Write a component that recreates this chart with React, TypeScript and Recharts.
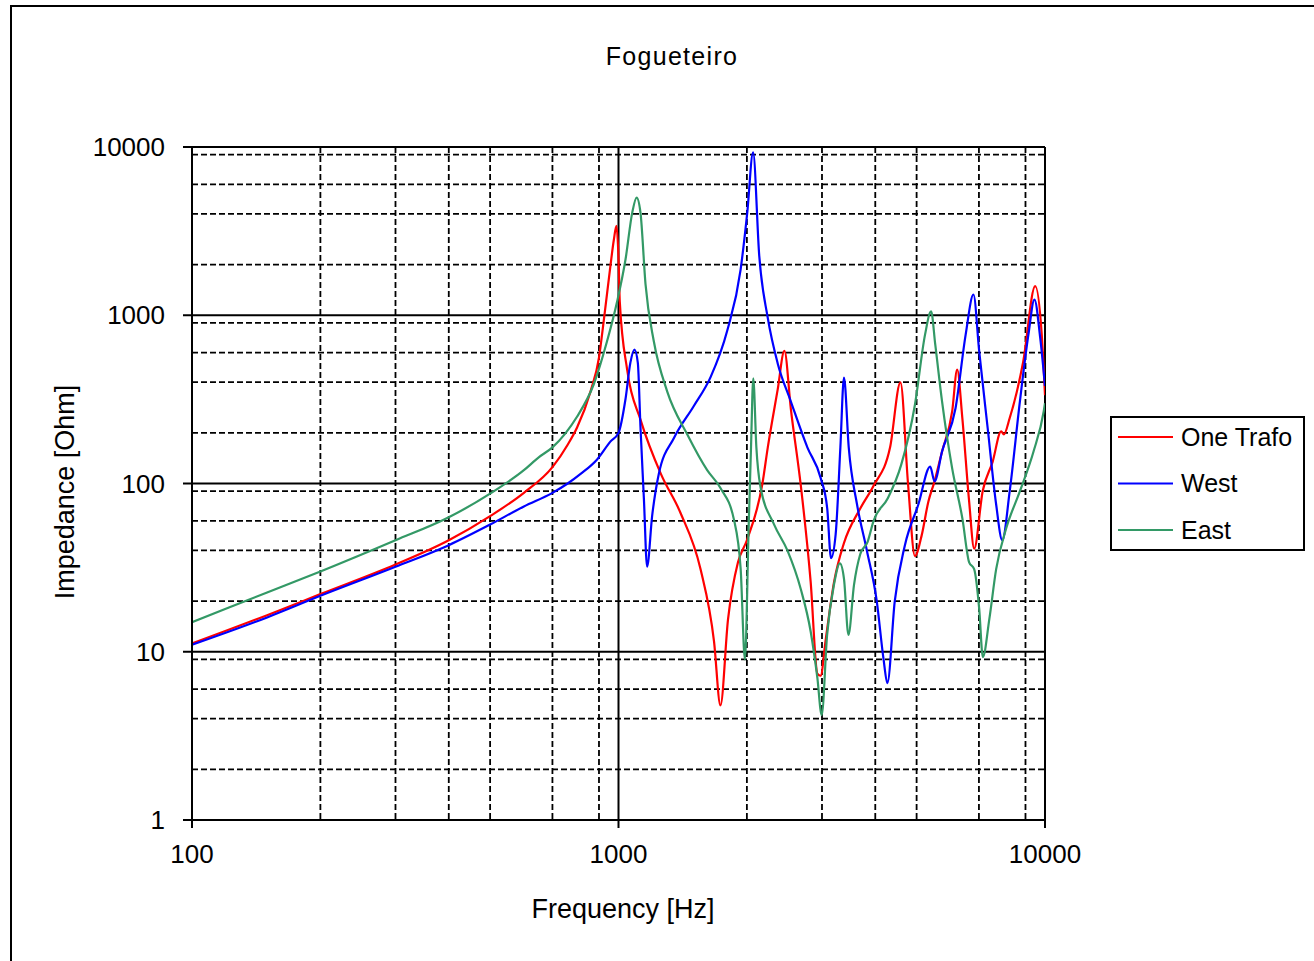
import { LineChart, Line, XAxis, YAxis, CartesianGrid } from "recharts";

// frequency [Hz], impedance [Ohm]
const oneTrafo: [number, number][] = [
  [100, 11.2], [150, 16.5], [200, 22], [300, 33], [400, 46], [500, 64],
  [600, 88], [700, 125], [760, 170], [800, 216], [860, 353], [900, 560],
  [924, 938], [957, 1950], [975, 2800], [989, 3400], [1000, 2200], [1007, 1200],
  [1048, 473], [1127, 238], [1257, 114], [1397, 67], [1557, 31], [1675, 11.5],
  [1734, 4.8], [1806, 15.5], [1906, 34], [2000, 46], [2175, 100], [2239, 164],
  [2361, 360], [2449, 614], [2536, 277], [2676, 97], [2822, 26], [2926, 7.4],
  [2977, 7.2], [3062, 11.9], [3202, 26], [3375, 44], [3688, 71], [3963, 97],
  [4333, 164], [4582, 399], [4776, 98], [4955, 37], [5137, 49], [5327, 78],
  [5508, 103], [5736, 155], [6058, 268], [6225, 475], [6400, 245], [6640, 78],
  [6822, 41], [7142, 90], [7540, 135], [7892, 204], [8010, 196], [8265, 245],
  [8892, 532], [9484, 1490], [9826, 767], [10000, 335],
];

const west: [number, number][] = [
  [100, 11], [150, 16], [200, 21.5], [300, 32], [400, 43], [500, 57],
  [600, 73], [700, 88], [760, 100], [815, 114], [891, 139], [958, 178],
  [1000, 200], [1039, 320], [1066, 521], [1090, 625], [1110, 521], [1126, 216],
  [1147, 81], [1167, 32], [1199, 64], [1243, 114], [1350, 187], [1503, 290],
  [1644, 429], [1799, 811], [1933, 1863], [2004, 4074], [2068, 9300], [2138, 2254],
  [2237, 974], [2361, 519], [2536, 307], [2772, 164], [2978, 108], [3086, 71],
  [3150, 36], [3230, 50], [3313, 164], [3378, 426], [3466, 164], [3625, 75],
  [3822, 40], [4032, 20], [4181, 9.1], [4270, 6.5], [4443, 19.9], [4694, 43],
  [5047, 75], [5381, 126], [5508, 103], [5736, 155], [6169, 280], [6516, 767],
  [6796, 1328], [7010, 611], [7339, 213], [7682, 75], [7940, 46], [8265, 90],
  [8733, 308], [9143, 767], [9446, 1240], [9745, 733], [10000, 380],
];

const east: [number, number][] = [
  [100, 15], [150, 22.5], [200, 30], [300, 46], [400, 63], [500, 87],
  [600, 120], [650, 143], [700, 164], [750, 198], [800, 250], [875, 389],
  [940, 700], [992, 1199], [1039, 2158], [1077, 4074], [1103, 5000], [1126, 4074],
  [1157, 1531], [1210, 700], [1301, 352], [1449, 196], [1614, 120], [1734, 94],
  [1865, 61], [1934, 31], [1979, 9.0], [2020, 57], [2045, 164], [2070, 421],
  [2105, 164], [2150, 97], [2317, 57], [2489, 40], [2676, 23.5], [2822, 13.2],
  [2926, 7.0], [2995, 4.2], [3084, 12.6], [3200, 25], [3305, 33.5], [3379, 27],
  [3460, 12.6], [3566, 25], [3688, 38], [3838, 45], [3963, 60], [4283, 82],
  [4600, 129], [4955, 294], [5233, 767], [5407, 1056], [5530, 668], [5736, 308],
  [6058, 123], [6401, 62], [6640, 34], [6822, 31], [7010, 18], [7150, 9.3],
  [7408, 15.8], [7682, 31], [8108, 54], [8733, 90], [9400, 155], [9930, 268],
  [10000, 300],
];

const xTicks = [100, 1000, 10000];
const yTicks = [1, 10, 100, 1000, 10000];
const minorSteps = [2, 3, 4, 5, 6, 7, 8, 9];

const xMinor = [100, 1000].flatMap((d) => minorSteps.map((k) => d * k));
const yMinor = [1, 10, 100, 1000].flatMap((d) => minorSteps.map((k) => d * k));

const series = [
  { name: "One Trafo", color: "#FF0000", data: oneTrafo },
  { name: "West", color: "#0000FF", data: west },
  { name: "East", color: "#339966", data: east },
];

const font = "'Liberation Sans', Arial, sans-serif";

const toRows = (pts: [number, number][]) => pts.map(([f, z]) => ({ f, z }));

function LegendBox() {
  return (
    <svg width={195} height={135} style={{ position: "absolute", left: 1110, top: 416 }}>
      <rect x={1} y={1} width={193} height={133} fill="#fff" stroke="#000" strokeWidth={2} />
      {series.map((s, i) => (
        <g key={s.name}>
          <line x1={8} x2={63} y1={21 + i * 46.5} y2={21 + i * 46.5} stroke={s.color} strokeWidth={2} />
          <text x={71} y={21 + i * 46.5} dy="0.35em" fontSize={25} fontFamily={font} fill="#000">
            {s.name}
          </text>
        </g>
      ))}
    </svg>
  );
}

export default function App() {
  return (
    <div style={{ position: "absolute", left: 0, top: 0, width: 1314, height: 961, overflow: "hidden", background: "#fff" }}>
      <div
        style={{
          position: "absolute",
          left: 10,
          top: 5,
          width: 1360,
          height: 1000,
          border: "2px solid #000",
        }}
      />
      <div style={{ position: "absolute", left: 0, top: 0 }}>
        <LineChart
          width={1314}
          height={961}
          margin={{ top: 147, right: 269, bottom: 81, left: 72 }}
        >
          <CartesianGrid
            horizontalValues={yMinor}
            verticalValues={xMinor}
            stroke="#000"
            strokeWidth={1.8}
            strokeDasharray="6 3"
          />
          <CartesianGrid
            horizontalValues={yTicks}
            verticalValues={xTicks}
            stroke="#000"
            strokeWidth={2}
          />
          <XAxis
            dataKey="f"
            type="number"
            scale="log"
            domain={[100, 10000]}
            ticks={xTicks}
            allowDataOverflow
            height={60}
            tickSize={8}
            tickMargin={17}
            axisLine={{ stroke: "#000", strokeWidth: 2 }}
            tickLine={{ stroke: "#000", strokeWidth: 2 }}
            tick={{ fontSize: 26, fill: "#000", fontFamily: font }}
          />
          <YAxis
            dataKey="z"
            type="number"
            scale="log"
            domain={[1, 10000]}
            ticks={yTicks}
            allowDataOverflow
            width={120}
            tickSize={9}
            tickMargin={18}
            axisLine={{ stroke: "#000", strokeWidth: 2 }}
            tickLine={{ stroke: "#000", strokeWidth: 2 }}
            tick={{ fontSize: 26, fill: "#000", fontFamily: font }}
          />
          {series.map((s) => (
            <Line
              key={s.name}
              name={s.name}
              data={toRows(s.data)}
              dataKey="z"
              type="monotone"
              stroke={s.color}
              strokeWidth={2.2}
              dot={false}
              isAnimationActive={false}
            />
          ))}
        </LineChart>
      </div>
      <LegendBox />
      <svg
        width={1314}
        height={961}
        style={{ position: "absolute", left: 0, top: 0, pointerEvents: "none" }}
      >
        <text x={672} y={65} textAnchor="middle" fontSize={25} letterSpacing={1.3} fontFamily={font} fill="#000">
          Fogueteiro
        </text>
        <text x={623} y={918} textAnchor="middle" fontSize={27} fontFamily={font} fill="#000">
          Frequency [Hz]
        </text>
        <text
          x={74}
          y={492}
          textAnchor="middle"
          fontSize={27}
          fontFamily={font}
          fill="#000"
          transform="rotate(-90 74 492)"
        >
          Impedance [Ohm]
        </text>
      </svg>
    </div>
  );
}
